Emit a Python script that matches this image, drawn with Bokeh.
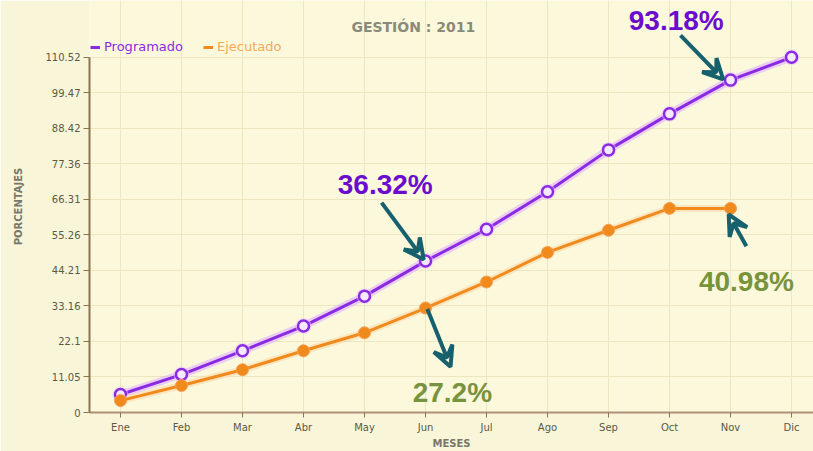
from bokeh.plotting import figure
from bokeh.models import (ColumnDataSource, FixedTicker, Label, Arrow, VeeHead,
                          Legend, LegendItem)
from bokeh.embed import file_html
from bokeh.resources import INLINE

# ---- data ----
meses = ["Ene", "Feb", "Mar", "Abr", "May", "Jun", "Jul", "Ago", "Sep", "Oct", "Nov", "Dic"]
programado = [5.6, 11.8, 19.2, 26.9, 36.2, 47.1, 57.0, 68.7, 81.7, 92.9, 103.4, 110.5]
ejecutado = [3.7, 8.4, 13.3, 19.2, 24.8, 32.5, 40.6, 49.8, 56.7, 63.5, 63.5]
y_ticks = [0, 11.052, 22.104, 33.156, 44.208, 55.26, 66.312, 77.364, 88.416, 99.468, 110.52]
y_tick_labels = ["0", "11.05", "22.1", "33.16", "44.21", "55.26", "66.31", "77.36", "88.42", "99.47", "110.52"]
title_text = "GESTIÓN : 2011"

# annotations: (text, x, y, color) and arrows (x0, y0, x1, y1)
notes = [("93.18%", 9.11, 122.0, "#6a0dcc"),
         ("36.32%", 4.34, 70.9, "#6a0dcc"),
         ("27.2%", 5.44, 6.2, "#77933c"),
         ("40.98%", 10.26, 40.9, "#77933c")]
arrows = [(9.18, 117.3, 9.88, 103.6),
          (4.28, 65.3, 4.97, 47.6),
          (5.03, 32.2, 5.41, 14.2),
          (10.26, 51.7, 9.97, 61.6)]

xs_p = list(range(len(programado)))
xs_e = list(range(len(ejecutado)))
src_p = ColumnDataSource(dict(x=xs_p, y=programado))
src_e = ColumnDataSource(dict(x=xs_e, y=ejecutado))

p = figure(width=813, height=451, output_backend="svg", toolbar_location=None,
           x_range=(-0.508, 11.36), y_range=(0, 128.17),
           min_border_left=89, min_border_right=0, min_border_top=0, min_border_bottom=37)

p.background_fill_color = "#fbf8dc"
p.border_fill_color = "#f8f5d8"
p.outline_line_color = None

p.xgrid.ticker = FixedTicker(ticks=xs_p)
p.xgrid.grid_line_color = "#ede6c0"
p.ygrid.grid_line_color = "#ede6c0"

# axes
p.xaxis.ticker = FixedTicker(ticks=xs_p)
p.xaxis.major_label_overrides = {i: m for i, m in enumerate(meses)}
p.yaxis.ticker = FixedTicker(ticks=y_ticks)
p.yaxis.major_label_overrides = {t: l for t, l in zip(y_ticks, y_tick_labels)}
p.yaxis.bounds = (0, 110.52)
for ax in (p.xaxis, p.yaxis):
    ax.axis_line_color = "#8a7550"
    ax.axis_line_width = 2
    ax.major_tick_line_color = "#8a7550"
    ax.major_tick_out = 6
    ax.major_tick_in = 0
    ax.minor_tick_line_color = None
    ax.major_label_text_font_size = "10px"
    ax.major_label_text_color = "#5a5a48"
    ax.major_label_text_font = "DejaVu Sans"
    ax.axis_label_text_font_size = "10px"
    ax.axis_label_text_font_style = "bold"
    ax.axis_label_text_color = "#77776a"
    ax.axis_label_text_font = "DejaVu Sans"
p.xaxis.axis_line_color = "#b08f78"
p.xaxis.major_tick_out = 5
p.xaxis.major_label_standoff = 4
p.xaxis.axis_label = "MESES"
p.xaxis.axis_label_standoff = 2
p.yaxis.axis_label = "PORCENTAJES"
p.yaxis.axis_label_standoff = 19
p.yaxis.major_label_standoff = 3

# series
p.line("x", "y", source=src_p, line_color="#e0b0ff", line_width=8, line_alpha=0.6)
r_p = p.line("x", "y", source=src_p, line_color="#8a2be2", line_width=3)
p.scatter("x", "y", source=src_p, size=16, marker="circle", fill_color="#e9c6ff",
          fill_alpha=0.5, line_color=None)
p.scatter("x", "y", source=src_p, size=11, marker="circle", fill_color="#f6e8ff",
          line_color="#8a2be2", line_width=2.5)

p.line("x", "y", source=src_e, line_color="#ffd8a8", line_width=7, line_alpha=0.6)
r_e = p.line("x", "y", source=src_e, line_color="#f08a1c", line_width=3)
p.scatter("x", "y", source=src_e, size=12, marker="circle", fill_color="#f08a1c",
          line_color="#f5a050", line_width=1)

# legends
leg_common = dict(label_text_font_size="13px", label_text_font="DejaVu Sans",
                  glyph_width=10, glyph_height=8, background_fill_alpha=0,
                  border_line_color=None, padding=0, margin=0, label_standoff=4)
leg1 = Legend(items=[LegendItem(label="Programado", renderers=[r_p])],
              location=(1, 358), label_text_color="#8a2be2", **leg_common)
leg2 = Legend(items=[LegendItem(label="Ejecutado", renderers=[r_e])],
              location=(114, 358), label_text_color="#f5a95a", **leg_common)
p.add_layout(leg1, "center")
p.add_layout(leg2, "center")

# title
p.add_layout(Label(x=4.80, y=119.8, text=title_text, text_align="center",
                   text_baseline="middle", text_font_size="14px", text_font="DejaVu Sans",
                   text_font_style="bold", text_color="#8a8a7a"))

# callouts
for (t, x, y, c) in notes:
    p.add_layout(Label(x=x, y=y, text=t, text_align="center", text_baseline="middle",
                       text_font="Liberation Sans", text_font_style="bold",
                       text_font_size="28px", text_color=c))
for (x0, y0, x1, y1) in arrows:
    p.add_layout(Arrow(x_start=x0, y_start=y0, x_end=x1, y_end=y1,
                       line_color="#17606d", line_width=4,
                       end=VeeHead(size=20, line_color="#17606d", line_width=4,
                                   fill_color=None)))

open("out.html", "w").write(file_html(p, INLINE))
